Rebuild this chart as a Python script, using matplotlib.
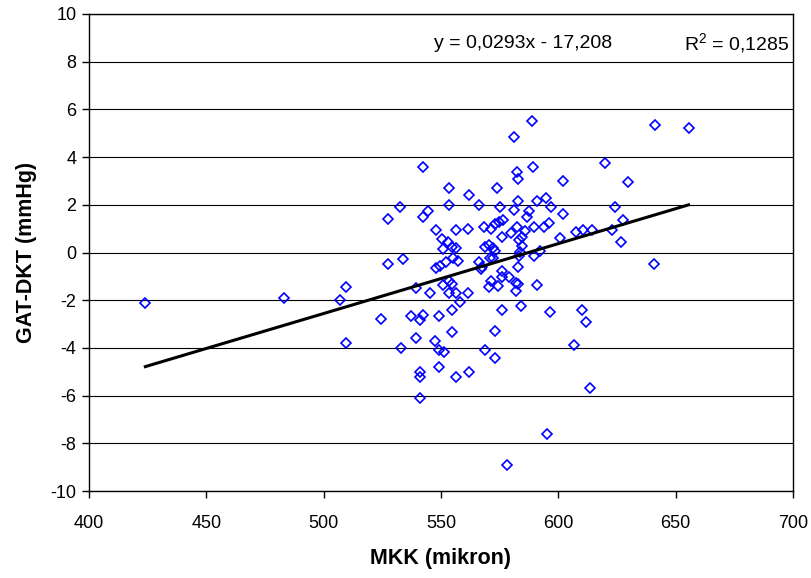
import matplotlib
matplotlib.use("Agg")
import matplotlib.pyplot as plt
import numpy as np

plt.rcParams['font.family'] = ['Liberation Sans', 'DejaVu Sans']
plt.rcParams['axes.unicode_minus'] = False
plt.rcParams['mathtext.fontset'] = 'custom'
plt.rcParams['mathtext.rm'] = 'Liberation Sans'

mkk = [424, 483, 507, 509.5, 509.5, 524.5, 527.5, 527.5, 532.5, 533,
       533.8, 537.3, 539.5, 539.4, 541, 542.5, 541, 541, 541, 542.3,
       542.4, 544.4, 545.4, 547.8, 547.8, 549.4, 549.3, 547.6, 549.3, 551.2,
       549.3, 550.3, 552.8, 551, 554.5, 556.2, 553.3, 553.3, 556.3, 561.5,
       562, 551, 553.3, 554.6, 553.3, 556.4, 561.5, 558.1, 554.6, 554.6,
       556.4, 562.1, 552, 555, 557.3, 566, 566.3, 566.9, 567.5, 568.2,
       571.4, 573, 568.6, 570.4, 572.1, 573.2, 572.1, 570.8, 568.6, 571.3,
       570.3, 574.1, 573, 573.1, 574, 575.3, 574.8, 576.5, 575.8, 575.9,
       575.9, 579, 575.9, 578.2, 579.8, 582.3, 581.2, 581.2, 582.2, 582.9,
       582.9, 582.6, 582.1, 583, 582.1, 584, 583.3, 584.4, 584.7, 583.7,
       583.3, 585.8, 586.7, 587.5, 589.1, 589.5, 589.5, 592.3, 588.8, 590.8,
       590.8, 594.1, 596.2, 594.9, 596.7, 596.3, 595, 601.8, 601.8, 600.8,
       606.5, 607.6, 609.9, 610.6, 611.8, 613.3, 614.4, 619.8, 622.7, 624.3,
       627.4, 626.8, 629.6, 640.7, 641.4, 655.5]
gat = [-2.1, -1.9, -2.0, -1.45, -3.8, -2.8, 1.4, -0.5, 1.9, -4.0,
       -0.27, -2.68, -1.5, -3.6, -2.82, -2.61, -5.0, -5.22, -6.1, 3.6,
       1.5, 1.75, -1.7, 0.93, -0.65, -0.58, -2.68, -3.7, -4.08, -4.17,
       -4.8, 0.55, 0.42, 0.14, 0.21, 0.17, 2.7, 2.0, 0.93, 0.97,
       2.4, -1.36, -1.21, -1.32, -1.7, -1.7, -1.7, -2.09, -2.41, -3.35,
       -5.21, -5.01, -0.39, -0.25, -0.37, 2.0, -0.38, -0.69, -0.62, 1.09,
       0.98, 1.19, 0.21, 0.31, 0.17, 0.07, -0.21, -0.25, -4.1, -1.18,
       -1.46, -1.42, -3.31, -4.41, 2.7, 1.9, 1.28, 1.37, 0.67, -0.79,
       -1.04, -1.01, -2.41, -8.93, 0.81, 1.08, 4.83, 1.8, 3.37, 3.1,
       2.16, -0.59, -1.28, -1.32, -1.6, -2.23, 0.53, 0.63, 0.28, 0.03,
       -0.14, 0.91, 1.47, 1.75, 3.6, 1.05, -0.14, 0.07, 5.5, 2.15,
       -1.35, 1.05, 1.23, 2.3, 1.91, -2.51, -7.6, 3.0, 1.63, 0.62,
       -3.89, 0.84, -2.4, 0.95, -2.9, -5.7, 0.95, 3.76, 0.94, 1.91,
       1.35, 0.43, 2.96, -0.5, 5.35, 5.22]

slope = 0.0293
intercept = -17.208
eq_text = "y = 0,0293x - 17,208"
r2_text = "R$^2$ = 0,1285"

x_ticks = [400, 450, 500, 550, 600, 650, 700]
y_ticks = [-10, -8, -6, -4, -2, 0, 2, 4, 6, 8, 10]

fig = plt.figure(figsize=(8.11, 5.78), dpi=100)
ax = fig.add_axes([89/811, 1-491/578, (793-89)/811, (491-14)/578])

ax.set_xlim(400, 700)
ax.set_ylim(-10, 10)
ax.set_xticks(x_ticks)
ax.set_yticks(y_ticks)
ax.yaxis.grid(True, color='black', linewidth=0.8)
ax.set_axisbelow(True)

ax.plot(mkk, gat, linestyle='none', marker='D', markersize=5.3,
        markerfacecolor='none', markeredgecolor='#0000FF', markeredgewidth=1.2, zorder=3)

xl = np.array([min(mkk), max(mkk)])
ax.plot(xl, slope*xl + intercept, color='black', linewidth=2.2, zorder=4)

ax.text(585, 8.75, eq_text, ha='center', va='center', fontsize=14)
ax.text(698.5, 8.75, r2_text, ha='right', va='center', fontsize=14)

for s in ax.spines.values():
    s.set_color('black')
    s.set_linewidth(1.0)
ax.tick_params(axis='both', direction='out', length=5, width=1, labelsize=13)
ax.tick_params(axis='x', pad=12)
ax.tick_params(axis='y', pad=4)

ax.set_xlabel("MKK (mikron)", fontsize=15.5, fontweight='bold', labelpad=12)
ax.set_ylabel("GAT-DKT (mmHg)", fontsize=15.5, fontweight='bold', labelpad=10)

fig.savefig("out.png", dpi=100)
